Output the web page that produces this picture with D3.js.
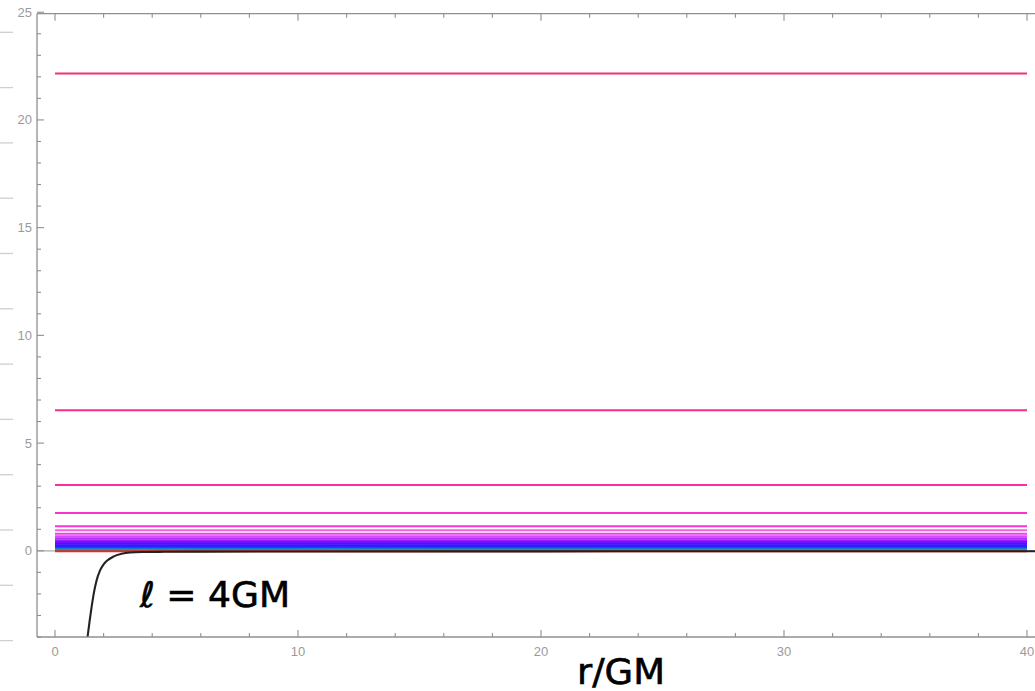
<!DOCTYPE html>
<html>
<head>
<meta charset="utf-8">
<script src="https://cdn.jsdelivr.net/npm/d3@7"></script>
<style>
  html, body { margin: 0; padding: 0; background: #fff; }
  svg { display: block; }
</style>
</head>
<body>
<svg id="chart" width="1035" height="691"></svg>
<script>
// Energy levels (horizontal lines, drawn from r = 0 to r = 40)
const levels = [22.15, 6.52, 3.05, 1.75, 1.14, 0.95, 0.79, 0.68, 0.58, 0.49, 0.41, 0.33, 0.26, 0.19, 0.13, 0.08, 0.04, -0.02];
const levelStart = 0;
const levelEnd = 40;

// Potential curve for l = 4GM, sampled in r/GM
const curveR = [1.30, 1.34, 1.42, 1.51, 1.60, 1.70, 1.85, 2.0, 2.15, 2.4, 2.74, 3.09, 3.6, 4.5, 6, 10, 20, 30, 41];
const curveV = [-4.35, -4.0, -3.3, -2.58, -1.95, -1.42, -0.92, -0.63, -0.45, -0.27, -0.14, -0.08, -0.055, -0.045, -0.038, -0.03, -0.025, -0.02, -0.02];

// Axis ticks
const xMajorTicks = [0, 10, 20, 30, 40];
const xMinorTicks = d3.range(0, 42, 2);
const yMajorTicks = [0, 5, 10, 15, 20, 25];
const yMinorTicks = d3.range(-4, 26, 1);

const xDomain = [-0.74, 40.75];
const yDomain = [-4, 25];

// Line colours, top level first
const palette = ["#f8306e", "#fb2b8a", "#fa2ea2", "#fa34c8", "#f836d8", "#f95ce8", "#f040ee",
                 "#d84cff", "#b533ff", "#9420ff", "#7812ff", "#5a0cff", "#4012ff", "#2a22ff",
                 "#2240ee", "#127cc8", "#0aa596", "#f2221e"];

const svg = d3.select("#chart");
const x = d3.scaleLinear().domain([0, 40]).range([55, 1027]);
const y = d3.scaleLinear().domain(yDomain).range([637, 12.2]);

const plotLeft = x(xDomain[0]), plotRight = x(xDomain[1]);
const plotTop = y(yDomain[1]) + 1.5, plotBottom = y(yDomain[0]);

// Faint ruler marks along the left edge of the page
const ruler = svg.append("g").attr("stroke", "#cfcfcf").attr("stroke-width", 1.3);
for (let k = 0; k < 12; k++) {
  const yy = 32.3 + k * 55.3;
  ruler.append("line").attr("x1", 0).attr("x2", 13).attr("y1", yy).attr("y2", yy);
}

svg.append("defs").append("clipPath").attr("id", "plotClip")
  .append("rect").attr("x", plotLeft).attr("y", plotTop)
  .attr("width", plotRight - plotLeft).attr("height", plotBottom - plotTop);

const axisColor = "#8f8f8f";

// y = 0 axis line
svg.append("line")
  .attr("x1", plotLeft).attr("x2", plotRight).attr("y1", y(0)).attr("y2", y(0))
  .attr("stroke", "#a8a8a8").attr("stroke-width", 1.2);

const plot = svg.append("g").attr("clip-path", "url(#plotClip)");

// Horizontal level lines
plot.selectAll("line.level").data(levels).join("line")
  .attr("class", "level")
  .attr("x1", x(levelStart)).attr("x2", x(levelEnd))
  .attr("y1", d => y(d)).attr("y2", d => y(d))
  .attr("stroke", (d, i) => palette[i])
  .attr("stroke-width", 2);

// Potential curve
const pts = curveR.map((r, i) => [r, curveV[i]]);
plot.append("path")
  .datum(pts)
  .attr("fill", "none")
  .attr("stroke", "#222")
  .attr("stroke-width", 2.1)
  .attr("stroke-linejoin", "round")
  .attr("d", d3.line().x(d => x(d[0])).y(d => y(d[1])).curve(d3.curveMonotoneX));

// Frame
const frame = svg.append("g").attr("stroke", axisColor).attr("stroke-width", 1.3).attr("fill", "none");
frame.append("line").attr("x1", plotLeft).attr("x2", plotRight).attr("y1", plotTop).attr("y2", plotTop);
frame.append("line").attr("x1", plotLeft).attr("x2", plotRight).attr("y1", plotBottom).attr("y2", plotBottom);
frame.append("line").attr("x1", plotLeft).attr("x2", plotLeft).attr("y1", plotTop).attr("y2", plotBottom);

// Ticks pointing inward
const ticks = svg.append("g").attr("stroke", axisColor).attr("stroke-width", 1.1);
xMinorTicks.forEach(t => {
  const len = xMajorTicks.includes(t) ? 7 : 4;
  ticks.append("line").attr("x1", x(t)).attr("x2", x(t)).attr("y1", plotBottom).attr("y2", plotBottom - len);
  ticks.append("line").attr("x1", x(t)).attr("x2", x(t)).attr("y1", plotTop).attr("y2", plotTop + len);
});
yMinorTicks.forEach(t => {
  const len = yMajorTicks.includes(t) ? 7 : 4;
  ticks.append("line").attr("x1", plotLeft).attr("x2", plotLeft + len).attr("y1", y(t)).attr("y2", y(t));
});

// Tick labels
const labelFont = "'Liberation Sans', Arial, sans-serif";
svg.append("g").selectAll("text").data(xMajorTicks).join("text")
  .attr("x", d => x(d)).attr("y", 656)
  .attr("text-anchor", "middle")
  .attr("font-family", labelFont).attr("font-size", 13)
  .attr("fill", "#9a9a9a")
  .text(d => d);

svg.append("g").selectAll("text").data(yMajorTicks).join("text")
  .attr("x", 32).attr("y", d => y(d) + 4.5)
  .attr("text-anchor", "end")
  .attr("font-family", labelFont).attr("font-size", 13)
  .attr("fill", "#9a9a9a")
  .text(d => d);

// Handwritten-style annotations
svg.append("text")
  .attr("x", 140).attr("y", 607)
  .attr("font-family", "'DejaVu Sans', sans-serif").attr("font-size", 35)
  .attr("fill", "#000").attr("stroke", "#000").attr("stroke-width", 0.6)
  .attr("textLength", 150).attr("lengthAdjust", "spacingAndGlyphs")
  .text("ℓ = 4GM");

svg.append("text")
  .attr("x", 577).attr("y", 684)
  .attr("font-family", "'DejaVu Sans', sans-serif").attr("font-size", 35)
  .attr("fill", "#000").attr("stroke", "#000").attr("stroke-width", 0.6)
  .attr("textLength", 88).attr("lengthAdjust", "spacingAndGlyphs")
  .text("r/GM");
</script>
</body>
</html>
